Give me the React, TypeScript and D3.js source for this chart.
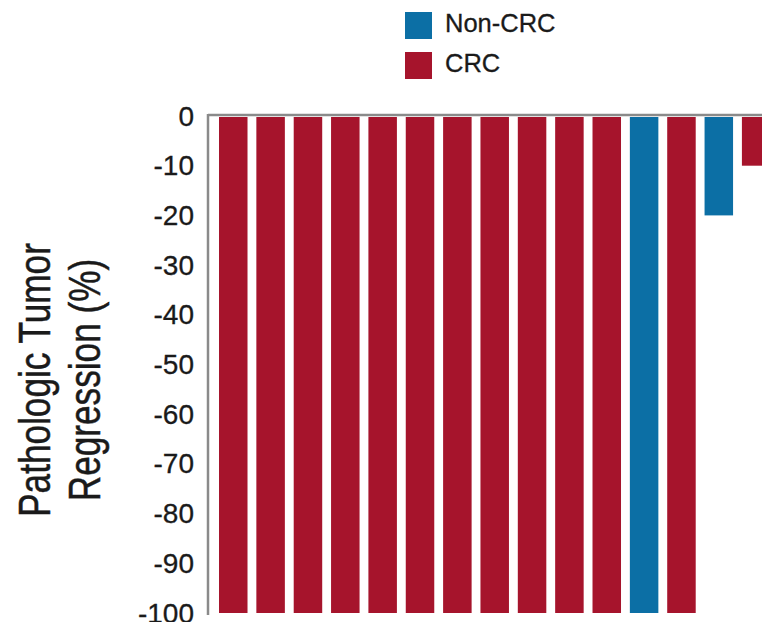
import React from "react";
import * as d3 from "d3";

const patients = ["P1","P2","P3","P4","P5","P6","P7","P8","P9","P10","P11","P12","P13","P14","P15"];
const regression = [-100,-100,-100,-100,-100,-100,-100,-100,-100,-100,-100,-100,-100,-20,-10];
const groups = ["CRC","CRC","CRC","CRC","CRC","CRC","CRC","CRC","CRC","CRC","CRC","Non-CRC","CRC","Non-CRC","CRC"];
const yTicks = [0,-10,-20,-30,-40,-50,-60,-70,-80,-90,-100];
const legendItems = ["Non-CRC","CRC"];
const colors: Record<string,string> = { "Non-CRC": "#0C6FA5", "CRC": "#A6142C" };

const W = 762, H = 622;
const axisX = 208;
const y0 = 116, y100 = 613;
const step = 37.35;
const pInner = 0.237, pOuter = 0.268;

export default function App() {
  const x = d3.scaleBand<string>()
    .domain(patients)
    .range([axisX + 1, axisX + 1 + step * (patients.length - pInner + 2 * pOuter)])
    .paddingInner(pInner)
    .paddingOuter(pOuter);
  const y = d3.scaleLinear().domain([0, -100]).range([y0, y100]);
  const font = "'Liberation Sans', Arial, Helvetica, sans-serif";
  return (
    <svg width={W} height={H} style={{ position: "absolute", left: 0, top: 0, background: "#fff" }} fontFamily={font}>
      {legendItems.map((k, i) => (
        <g key={k} transform={`translate(405,${12 + i * 40})`}>
          <rect width={27} height={27} fill={colors[k]} />
          <text x={40} y={20} fontSize={25.5} fill="#1a1a1a" stroke="#1a1a1a" strokeWidth={0.3}>{k}</text>
        </g>
      ))}
      {patients.map((p, i) => (
        <rect key={p} x={x(p)} y={y(0) + 1} width={x.bandwidth()} height={y(regression[i]) - y(0) - 1} fill={colors[groups[i]]} />
      ))}
      <line x1={axisX} x2={W} y1={y0 - 1} y2={y0 - 1} stroke="#8a8a8a" strokeWidth={2.5} />
      <line x1={axisX} x2={axisX} y1={y0 - 2} y2={y100 + 2} stroke="#8a8a8a" strokeWidth={2.5} />
      {yTicks.map(t => (
        <text key={t} x={194} y={y(t)} textAnchor="end" dominantBaseline="central" fontSize={28} fill="#1a1a1a" stroke="#1a1a1a" strokeWidth={0.3}>{t}</text>
      ))}
      <g transform="translate(50,380) rotate(-90)">
        <text x={0} y={0} textAnchor="middle" fontSize={44} fill="#1a1a1a" stroke="#1a1a1a" strokeWidth={0.5} transform="scale(0.8,1)">Pathologic Tumor</text>
      </g>
      <g transform="translate(100,380) rotate(-90)">
        <text x={0} y={0} textAnchor="middle" fontSize={44} fill="#1a1a1a" stroke="#1a1a1a" strokeWidth={0.5} transform="scale(0.8,1)">Regression (%)</text>
      </g>
    </svg>
  );
}
